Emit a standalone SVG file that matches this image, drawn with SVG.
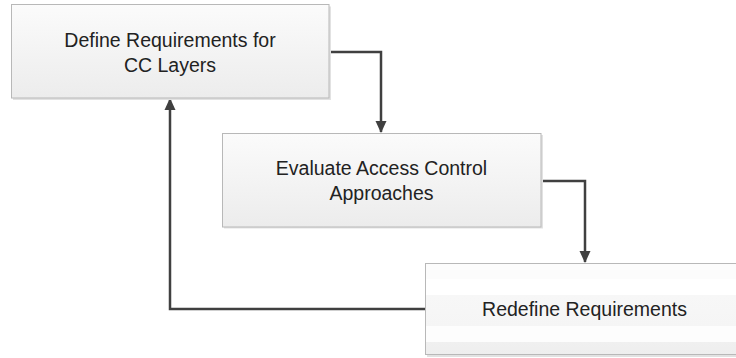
<svg xmlns="http://www.w3.org/2000/svg" width="736" height="358" viewBox="0 0 736 358">
  <style>
    .box { stroke: #b8b8b8; stroke-width: 1; }
    .shadow { fill: #e2e2e2; }
    .label { font-family: "Liberation Sans", Arial, sans-serif; font-size: 19.5px; fill: #222222; text-anchor: middle; }
    .conn { fill: none; stroke: #404040; stroke-width: 2.5; stroke-linejoin: miter; }
  </style>
  <defs>
    <linearGradient id="boxFill" x1="0" y1="0" x2="0" y2="1">
      <stop offset="0" stop-color="#fbfbfb"/>
      <stop offset="1" stop-color="#ececec"/>
    </linearGradient>
    <linearGradient id="stripeFill" x1="0" y1="0" x2="0" y2="1">
      <stop offset="0" stop-color="#fcfcfc"/>
      <stop offset="0.17" stop-color="#fcfcfc"/>
      <stop offset="0.17" stop-color="#ffffff"/>
      <stop offset="0.35" stop-color="#ffffff"/>
      <stop offset="0.35" stop-color="#f7f7f7"/>
      <stop offset="0.69" stop-color="#f5f5f5"/>
      <stop offset="0.69" stop-color="#fdfdfd"/>
      <stop offset="0.86" stop-color="#fdfdfd"/>
      <stop offset="0.86" stop-color="#f0f0f0"/>
      <stop offset="1" stop-color="#eeeeee"/>
    </linearGradient>
    <marker id="arrow" viewBox="0 0 12 12" refX="11" refY="6" markerWidth="12" markerHeight="12" markerUnits="userSpaceOnUse" orient="auto">
      <path d="M0,0.5 L12,6 L0,11.5 Z" fill="#404040"/>
    </marker>
  </defs>

  <g id="connectors">
    <path class="conn" d="M329,52 H381 V132" marker-end="url(#arrow)"/>
    <path class="conn" d="M541,181 H585 V262" marker-end="url(#arrow)"/>
    <path class="conn" d="M425,309 H170 V99" marker-end="url(#arrow)"/>
  </g>

  <g id="node-define">
    <rect class="shadow" x="13" y="6.5" width="318" height="93.5"/>
    <rect class="box" x="11.5" y="4.5" width="317.5" height="93.5" fill="url(#boxFill)"/>
    <text class="label" x="170" y="46.5">Define Requirements for</text>
    <text class="label" x="170" y="72">CC Layers</text>
  </g>

  <g id="node-evaluate">
    <rect class="shadow" x="224" y="135" width="319" height="93.5"/>
    <rect class="box" x="222.5" y="133.5" width="318.5" height="93.5" fill="url(#boxFill)"/>
    <text class="label" x="381.5" y="175">Evaluate Access Control</text>
    <text class="label" x="381.5" y="199.5">Approaches</text>
  </g>

  <g id="node-redefine">
    <rect class="shadow" x="427" y="265" width="320" height="92"/>
    <rect class="box" x="425.5" y="263.5" width="319" height="91" fill="url(#stripeFill)"/>
    <text class="label" x="584.5" y="316">Redefine Requirements</text>
  </g>
</svg>
